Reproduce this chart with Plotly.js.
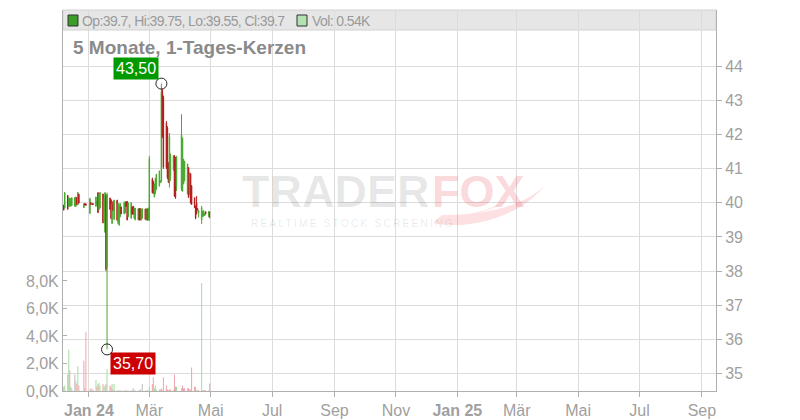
<!DOCTYPE html>
<html><head><meta charset="utf-8">
<script src="https://cdn.plot.ly/plotly-3.0.1.min.js"></script>
<style>html,body{margin:0;padding:0;background:#fff}#chart{width:800px;height:420px}</style>
</head><body><div id="chart"></div>
<script>
const dates = ['2023-12-07','2023-12-08','2023-12-11','2023-12-12','2023-12-13','2023-12-14','2023-12-15','2023-12-18','2023-12-19','2023-12-20','2023-12-21','2023-12-22','2023-12-27','2023-12-28','2023-12-29',
'2024-01-02','2024-01-03','2024-01-04','2024-01-05','2024-01-08','2024-01-09','2024-01-10','2024-01-11','2024-01-12','2024-01-15','2024-01-16','2024-01-17','2024-01-18','2024-01-19','2024-01-22','2024-01-23','2024-01-24','2024-01-25','2024-01-26','2024-01-29','2024-01-30','2024-01-31',
'2024-02-01','2024-02-02','2024-02-05','2024-02-06','2024-02-07','2024-02-08','2024-02-09','2024-02-12','2024-02-13','2024-02-14','2024-02-15','2024-02-16','2024-02-19','2024-02-20','2024-02-21','2024-02-22','2024-02-23','2024-02-26','2024-02-27','2024-02-28','2024-02-29',
'2024-03-01','2024-03-04','2024-03-05','2024-03-06','2024-03-07','2024-03-08','2024-03-11','2024-03-12','2024-03-13','2024-03-14','2024-03-15','2024-03-18','2024-03-19','2024-03-20','2024-03-21','2024-03-22','2024-03-25','2024-03-26','2024-03-27','2024-03-28',
'2024-04-02','2024-04-03','2024-04-04','2024-04-05','2024-04-08','2024-04-09','2024-04-10','2024-04-11','2024-04-12','2024-04-15','2024-04-16','2024-04-17','2024-04-18','2024-04-19','2024-04-22','2024-04-23','2024-04-24','2024-04-25','2024-04-26','2024-04-29','2024-04-30'];
const open = [39.93,39.85,40.22,39.90,39.90,39.90,39.92,39.90,39.90,40.15,39.94,40.25,39.86,39.98,39.97,
39.70,40.00,39.95,39.98,39.90,39.95,40.30,39.80,39.85,40.26,39.45,39.15,40.20,38.10,40.14,40.09,39.40,40.04,39.52,40.08,39.40,39.35,
39.60,39.88,39.68,39.70,40.03,40.04,39.60,39.55,39.88,39.90,39.55,39.50,39.50,39.83,39.83,39.50,39.55,39.82,39.50,39.82,39.50,
39.50,40.70,40.60,40.18,40.30,40.40,40.50,40.60,40.65,43.30,43.10,42.35,42.20,41.15,40.60,40.80,41.00,41.38,41.30,40.50,
40.40,40.35,40.56,40.65,40.26,41.04,40.25,40.85,40.50,40.15,39.90,40.00,39.83,39.70,39.50,39.60,39.62,39.63,39.74,39.60,39.70];
const high = [39.95,40.32,40.23,40.16,40.15,40.14,40.16,40.17,40.18,40.16,40.32,40.27,39.98,39.99,39.98,
40.15,40.02,39.99,39.99,40.18,40.06,40.31,40.26,40.32,40.27,40.12,40.31,40.25,40.30,40.15,40.10,39.97,40.05,40.09,40.09,40.00,39.93,
39.99,39.89,40.04,40.04,40.04,40.05,40.01,40.02,39.89,39.91,39.86,39.85,39.84,39.84,39.84,39.83,39.84,39.83,39.84,39.83,39.86,
41.38,40.74,40.65,40.56,40.74,40.85,40.95,40.67,43.50,43.35,43.15,42.40,42.25,41.20,42.05,41.45,41.40,41.40,41.35,41.38,
42.60,41.92,41.29,41.23,41.15,41.05,40.89,40.88,40.52,40.16,39.92,40.20,39.85,39.78,39.91,39.77,39.78,39.70,39.75,39.76,39.75];
const low = [39.78,39.84,39.80,39.88,39.90,39.90,39.92,39.90,39.88,39.94,39.94,39.98,39.85,39.93,39.92,
39.67,39.94,39.94,39.94,39.89,39.94,39.70,39.78,39.84,39.40,39.44,39.12,38.00,35.70,39.80,39.52,39.38,39.77,39.50,39.47,39.38,39.33,
39.57,39.67,39.67,39.70,39.89,39.49,39.58,39.54,39.66,39.66,39.54,39.49,39.49,39.49,39.49,39.49,39.54,39.50,39.49,39.48,39.49,
39.47,40.28,40.27,40.16,40.25,40.38,40.48,40.58,40.60,41.90,41.00,41.00,40.70,40.58,40.45,40.65,40.94,40.18,40.12,40.35,
40.35,40.33,40.55,40.63,40.25,40.15,40.24,39.98,39.94,39.85,39.52,39.66,39.78,39.57,39.38,39.58,39.60,39.62,39.66,39.58,39.55];
const close = [39.79,40.30,39.82,40.15,40.12,40.13,40.15,40.15,40.17,39.95,40.30,40.00,39.97,39.94,39.93,
40.12,39.95,39.98,39.95,40.17,40.05,39.72,40.25,40.30,39.42,40.10,40.30,38.05,40.25,39.81,39.55,39.95,39.78,40.08,39.50,39.98,39.90,
39.98,39.68,40.00,40.03,39.90,39.50,40.00,40.00,39.67,39.67,39.85,39.84,39.83,39.50,39.50,39.82,39.82,39.52,39.82,39.50,39.85,
41.30,40.30,40.28,40.55,40.70,40.84,40.93,40.65,43.25,41.95,41.05,41.03,40.75,40.60,41.95,41.40,41.38,40.20,40.15,41.35,
42.00,41.90,41.28,41.22,41.14,40.16,40.88,40.00,39.96,39.86,39.55,39.70,39.80,39.78,39.86,39.75,39.77,39.68,39.68,39.75,39.70];
const volumeK = [0.3,0.4,1.2,3.0,1.5,0.3,0.2,1.2,0.7,0.5,1.8,0.4,2.2,0.2,4.3,
0.1,0.2,0.1,0.1,0.8,0.3,0.5,0.6,0.4,0.5,0.3,0.4,0.5,1.6,0.4,0.3,0.5,0.1,0.5,0.03,0.05,0.03,
0.03,0.03,0.05,0.03,0.03,0.03,0.03,0.03,0.03,0.2,0.03,0.03,0.03,0.03,0.1,0.03,0.5,0.03,0.03,0.03,0.03,
0.3,0.5,1.0,0.2,0.4,0.1,0.1,0.1,0.2,0.05,1.0,0.4,0.1,0.05,0.1,0.1,0.05,1.2,0.3,0.3,
0.2,0.4,0.2,0.2,0.2,0.2,0.1,0.1,1.7,0.3,0.3,0.05,0.05,0.05,7.85,0.05,0.05,0.05,0.05,0.05,0.54];
const priceTicks = [35,36,37,38,39,40,41,42,43,44];
const volTicks = [0,2,4,6,8];
const monthTicks = ['2024-01-01','2024-03-01','2024-05-01','2024-07-01','2024-09-01','2024-11-01','2025-01-01','2025-03-01','2025-05-01','2025-07-01','2025-09-01'];
const monthLabels = ['<b>Jan 24</b>','Mär','Mai','Jul','Sep','Nov','<b>Jan 25</b>','Mär','Mai','Jul','Sep'];
const titleText = '5 Monate, 1-Tages-Kerzen';

const n = dates.length - 1;
const volColors = close.map((c, i) => {
  if (i === 0) return '#bdbdbd';
  if (c > close[i-1]) return '#a6dca0';
  if (c < close[i-1]) return '#f2a3ab';
  return '#bdbdbd';
});
let iMax = 0, iMin = 0;
high.forEach((h, i) => { if (h > high[iMax]) iMax = i; });
low.forEach((l, i) => { if (l < low[iMin]) iMin = i; });
const de = v => v.toFixed(2).replace('.', ',');

// pixel helpers for paper coords (plot area 63..716 x 10..391)
const px = x => (x - 63) / 653;
const py = y => (391 - y) / 381;
const pt = (x, y) => px(x).toFixed(5) + ',' + py(y).toFixed(5);

const GREEN = '#4aa830', RED = '#b31b1b';
const traces = [
  {type:'bar', x:dates, y:volumeK, yaxis:'y', xaxis:'x', marker:{color:volColors, line:{width:0}},
   width: 86400000*1.0, hoverinfo:'skip'},
  {type:'candlestick', x:dates, open:open, high:high, low:low, close:close, xaxis:'x', yaxis:'y2',
   increasing:{line:{color:GREEN, width:1}, fillcolor:GREEN},
   decreasing:{line:{color:RED, width:1}, fillcolor:RED},
   whiskerwidth:0, hoverinfo:'skip'},
  {type:'scatter', mode:'markers', x:[dates[iMax], dates[iMin]], y:[high[iMax], low[iMin]], yaxis:'y2',
   marker:{symbol:'circle-open', size:11, color:'#222', line:{width:1}}, hoverinfo:'skip'}
];

const SANS = 'Liberation Sans, Arial, sans-serif';
const tickFont = {family:SANS, size:16, color:'#a0a0a0'};
const tail = 'M' + pt(433,223) + ' C' + pt(470,231) + ' ' + pt(522,216) + ' ' + pt(546,184) +
             ' C' + pt(528,204) + ' ' + pt(488,216) + ' ' + pt(442,215) + ' Z';
const tail2 = 'M' + pt(470,214) + ' C' + pt(490,212) + ' ' + pt(505,204) + ' ' + pt(512,196) +
             ' C' + pt(500,206) + ' ' + pt(486,210) + ' ' + pt(470,214) + ' Z';
const layout = {
  width:800, height:420, margin:{l:63, r:84, t:10, b:29},
  paper_bgcolor:'#fff', plot_bgcolor:'#fff', showlegend:false, hovermode:false,
  xaxis:{type:'date', range:['2023-12-06 06:00','2025-09-15'], tickvals:monthTicks, ticktext:monthLabels,
    showgrid:true, gridcolor:'#dcdcdc', gridwidth:1, ticks:'outside', ticklen:5, tickcolor:'#b0b0b0',
    showline:true, linecolor:'#b0b0b0', linewidth:1, tickfont:tickFont, rangeslider:{visible:false}, zeroline:false},
  yaxis:{range:[0, 27.7], tickvals:volTicks, ticktext:volTicks.map(v => v.toFixed(1).replace('.', ',') + 'K'),
    showgrid:false, ticks:'inside', ticklen:4, tickcolor:'#b0b0b0', showline:true, linecolor:'#b0b0b0',
    tickfont:tickFont, zeroline:false, side:'left'},
  yaxis2:{range:[34.48, 45.66], tickvals:priceTicks, ticktext:priceTicks.map(String), overlaying:'y', side:'right',
    showgrid:true, gridcolor:'#dcdcdc', ticks:'outside', ticklen:5, tickcolor:'#b0b0b0', showline:true,
    linecolor:'#b0b0b0', tickfont:tickFont, zeroline:false},
  shapes:[
    {type:'rect', xref:'paper', yref:'paper', x0:0, x1:1, y0:py(30), y1:1, fillcolor:'#e6e6e6', line:{width:1, color:'#d2d2d2'}, layer:'below'},
    {type:'rect', xref:'paper', yref:'paper', x0:px(68), x1:px(78), y0:py(26), y1:py(15), fillcolor:'#3c9c28', line:{width:1, color:'#333'}},
    {type:'rect', xref:'paper', yref:'paper', x0:px(297), x1:px(307), y0:py(26), y1:py(15), fillcolor:'#b2e2b0', line:{width:1, color:'#333'}},
    {type:'path', xref:'paper', yref:'paper', path:tail, fillcolor:'rgba(235,60,75,0.16)', line:{width:0}},
    {type:'path', xref:'paper', yref:'paper', path:tail2, fillcolor:'rgba(235,60,75,0.12)', line:{width:0}}
  ],
  annotations:[
    {xref:'paper', yref:'paper', x:px(81), y:py(21), xanchor:'left', yanchor:'middle', showarrow:false, borderpad:0,
     text:`<span style="letter-spacing:-0.6px">Op:${open[n]}, Hi:${high[n]}, Lo:${low[n]}, Cl:${close[n]}</span>`, font:{family:SANS, size:14, color:'#9a9a9a'}},
    {xref:'paper', yref:'paper', x:px(311), y:py(21), xanchor:'left', yanchor:'middle', showarrow:false, borderpad:0,
     text:`<span style="letter-spacing:-0.6px">Vol: ${volumeK[n]}K</span>`, font:{family:SANS, size:14, color:'#9a9a9a'}},
    {xref:'paper', yref:'paper', x:px(71), y:py(47), xanchor:'left', yanchor:'middle', showarrow:false,
     text:`<b>${titleText}</b>`, font:{family:SANS, size:19, color:'#8a8a8a'}},
    {xref:'paper', yref:'paper', x:px(431), y:py(191.5), xanchor:'right', yanchor:'middle', showarrow:false, borderpad:0,
     text:'<b>TRADER</b>', font:{family:SANS, size:45, color:'rgba(0,0,0,0.09)'}},
    {xref:'paper', yref:'paper', x:px(431), y:py(191.5), xanchor:'left', yanchor:'middle', showarrow:false, borderpad:0,
     text:'<b>FOX</b>', font:{family:SANS, size:45, color:'rgba(235,60,75,0.2)'}},
    {xref:'paper', yref:'paper', x:px(250), y:py(217), xanchor:'left', yanchor:'top', showarrow:false, borderpad:0,
     text:'<span style="letter-spacing:2.3px">REALTIME STOCK SCREENING</span>', font:{family:SANS, size:10, color:'rgba(0,0,0,0.1)'}},
    {xref:'x', yref:'y2', x:dates[iMax], y:high[iMax], xanchor:'right', yanchor:'bottom', xshift:-2, yshift:4, showarrow:false,
     text:de(high[iMax]), bgcolor:'#009a00', borderpad:2, font:{family:SANS, size:16, color:'#fff'}},
    {xref:'x', yref:'y2', x:dates[iMin], y:low[iMin], xanchor:'left', yanchor:'top', xshift:3, yshift:-3, showarrow:false,
     text:de(low[iMin]), bgcolor:'#cc0000', borderpad:2, font:{family:SANS, size:16, color:'#fff'}}
  ]
};
Plotly.newPlot('chart', traces, layout, {staticPlot:true, displayModeBar:false});
</script></body></html>
